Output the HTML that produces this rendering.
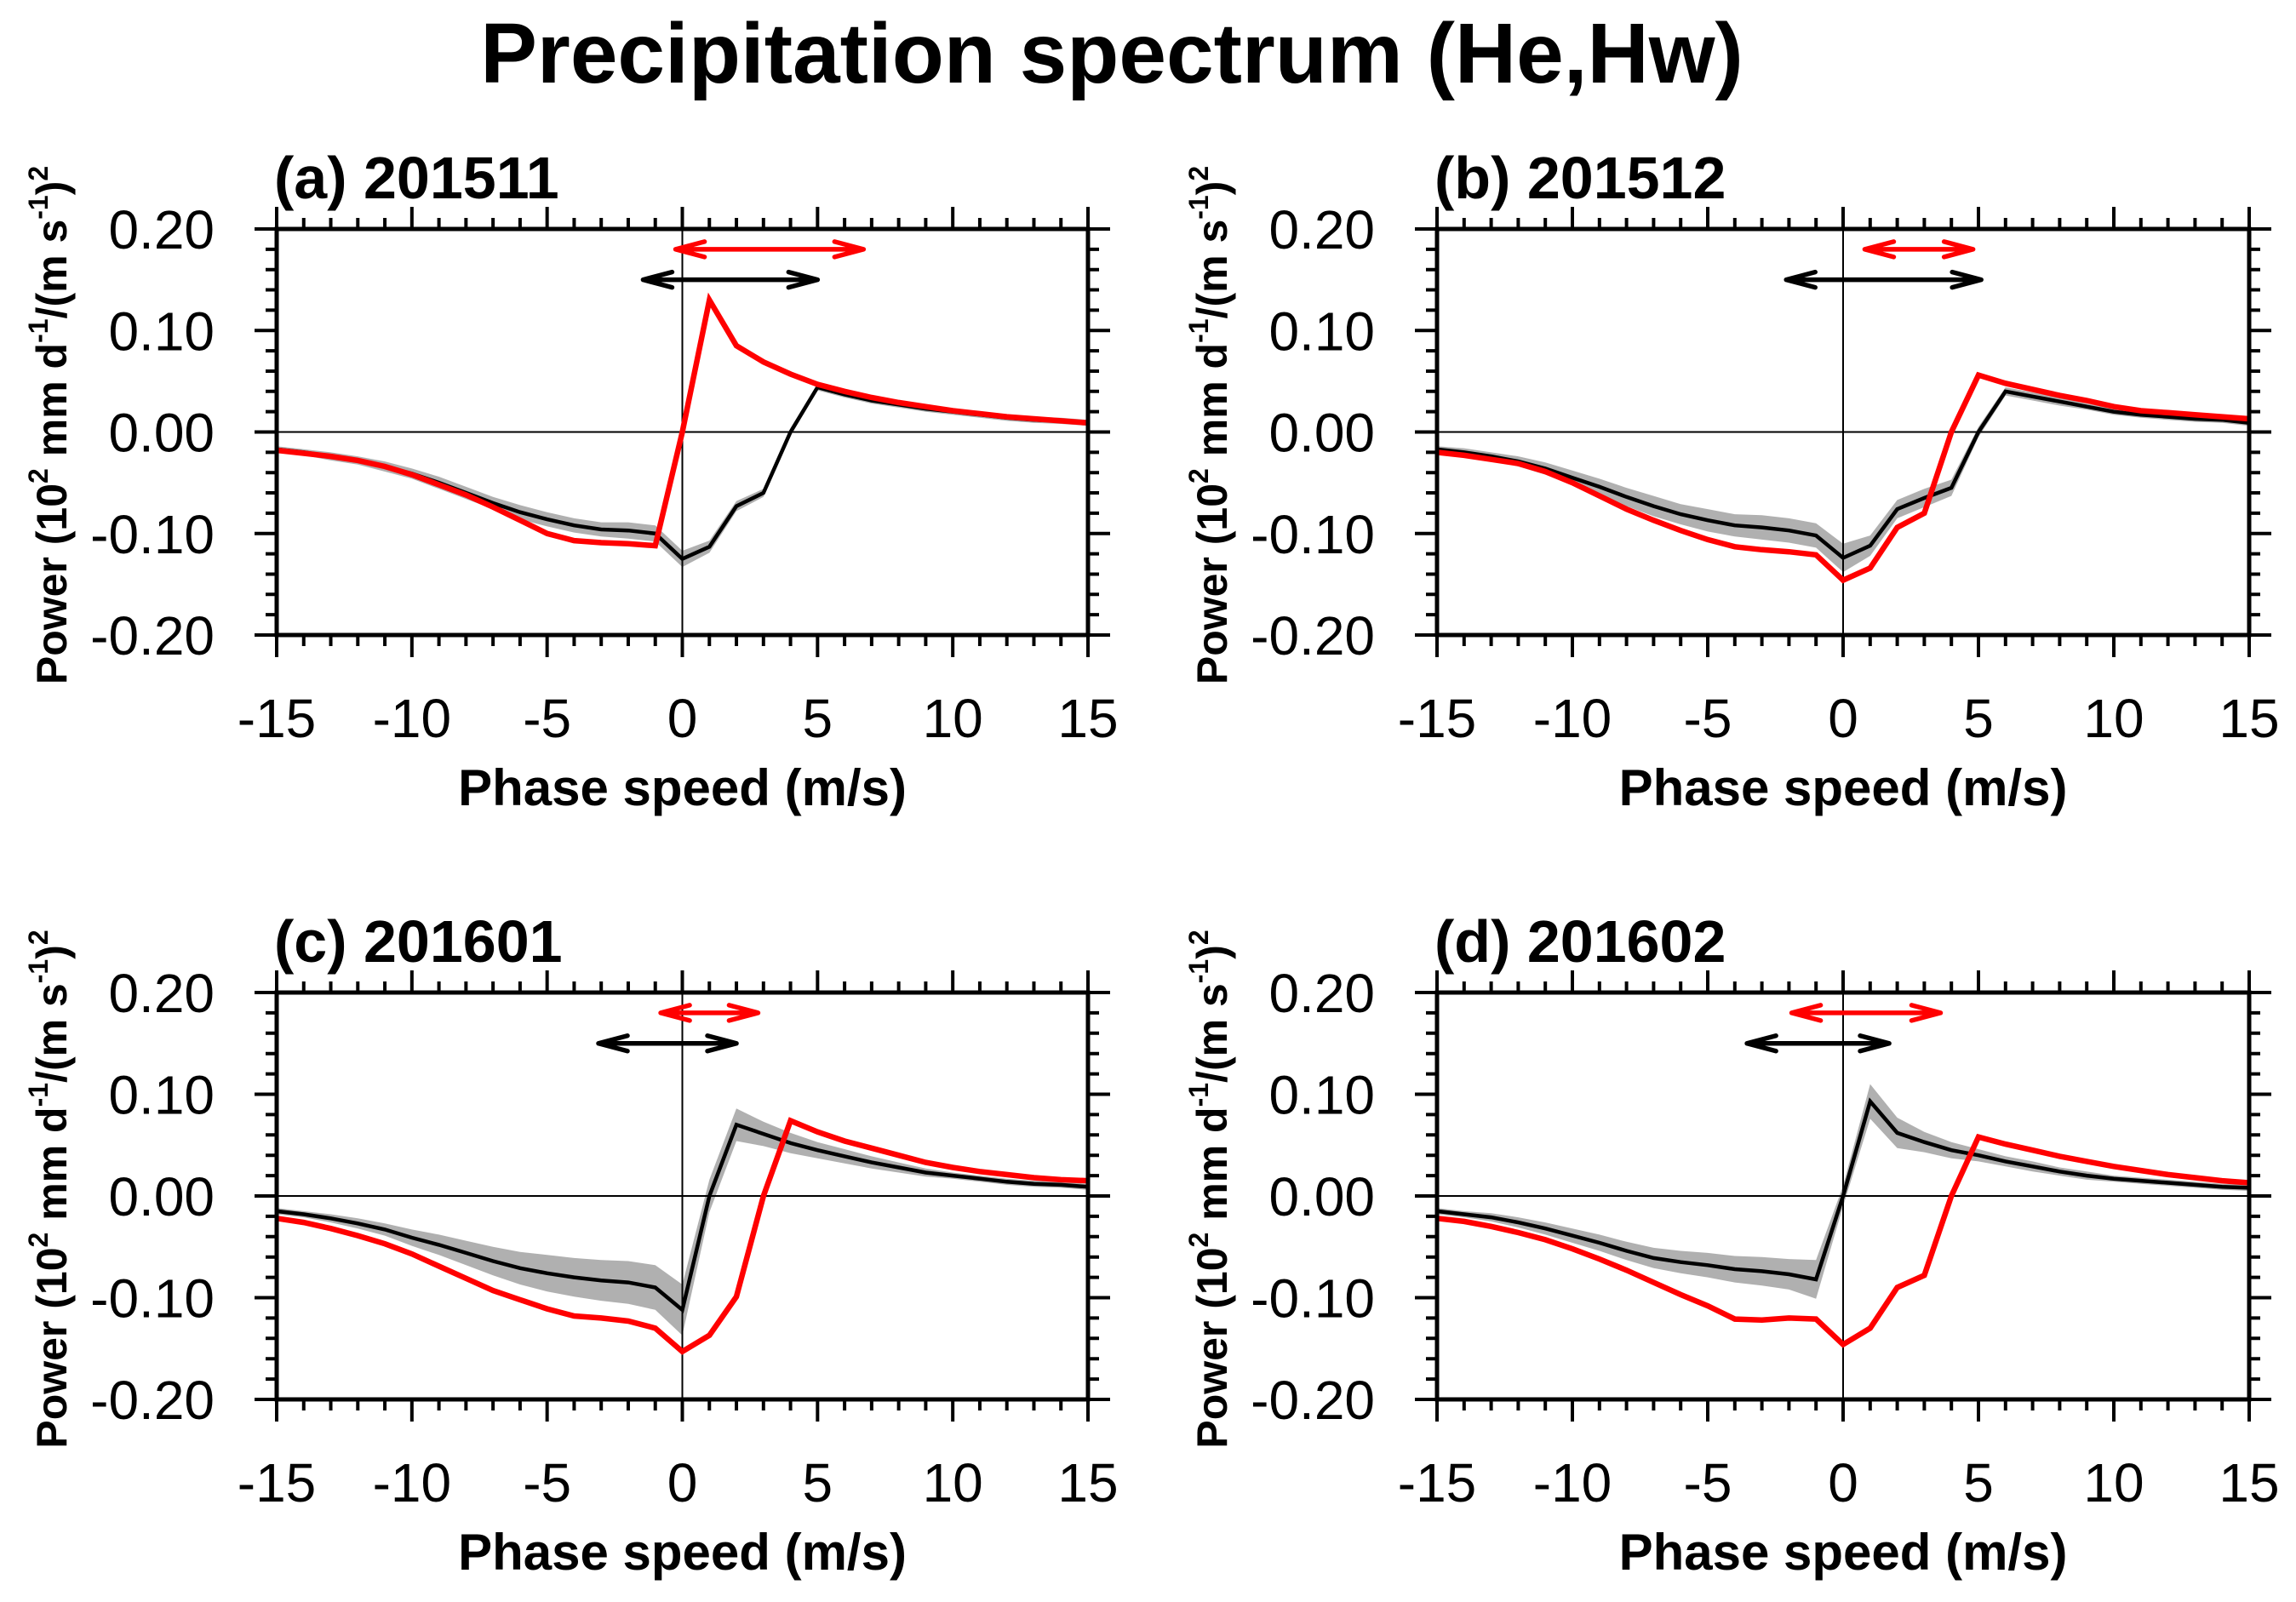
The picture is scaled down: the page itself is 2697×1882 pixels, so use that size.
<!DOCTYPE html>
<html><head><meta charset="utf-8"><title>Precipitation spectrum (He,Hw)</title>
<style>html,body{margin:0;padding:0;background:#fff}svg{display:block}text{font-family:"Liberation Sans",Arial,sans-serif}</style>
</head><body>
<svg id="fig" xmlns="http://www.w3.org/2000/svg" width="2697" height="1882" viewBox="0 0 2697 1882">
<rect width="2697" height="1882" fill="#fff"/>
<text x="1306" y="97" text-anchor="middle" font-size="100" font-weight="bold">Precipitation spectrum (He,Hw)</text>
</svg>
<script>
const speeds = [-15,-14,-13,-12,-11,-10,-9,-8,-7,-6,-5,-4,-3,-2,-1,0,1,2,3,4,5,6,7,8,9,10,11,12,13,14,15];
const xTicks = [-15,-10,-5,0,5,10,15];
const yTicks = [0.2,0.1,0,-0.1,-0.2];
const yTickLabels = ["0.20","0.10","0.00","-0.10","-0.20"];
const panelTitles = ["(a) 201511","(b) 201512","(c) 201601","(d) 201602"];

const redA = [-0.018,-0.021,-0.024,-0.028,-0.034,-0.042,-0.052,-0.062,-0.074,-0.087,-0.100,-0.107,-0.109,-0.110,-0.112,0.0,0.130,0.085,0.069,0.057,0.047,0.040,0.034,0.029,0.025,0.021,0.018,0.015,0.013,0.011,0.009];
const blackA = [-0.017,-0.020,-0.024,-0.028,-0.034,-0.041,-0.050,-0.060,-0.070,-0.079,-0.086,-0.092,-0.096,-0.097,-0.100,-0.125,-0.113,-0.073,-0.060,0.0,0.044,0.037,0.031,0.027,0.023,0.020,0.017,0.014,0.012,0.011,0.009];
const spreadA = [0.003,0.003,0.004,0.004,0.005,0.005,0.006,0.006,0.006,0.007,0.007,0.007,0.007,0.008,0.008,0.008,0.006,0.005,0.004,0.004,0.003,0.003,0.003,0.003,0.003,0.003,0.003,0.003,0.003,0.003,0.003];
const redB = [-0.020,-0.023,-0.027,-0.031,-0.039,-0.050,-0.063,-0.076,-0.087,-0.097,-0.106,-0.113,-0.116,-0.118,-0.121,-0.146,-0.134,-0.094,-0.080,0.0,0.056,0.048,0.042,0.036,0.031,0.025,0.021,0.019,0.017,0.015,0.013];
const blackB = [-0.017,-0.020,-0.024,-0.029,-0.036,-0.045,-0.054,-0.064,-0.073,-0.081,-0.087,-0.092,-0.094,-0.097,-0.102,-0.124,-0.112,-0.076,-0.065,-0.055,0.0,0.040,0.035,0.030,0.025,0.020,0.017,0.015,0.013,0.012,0.009];
const spreadB = [0.003,0.004,0.004,0.005,0.006,0.007,0.008,0.009,0.010,0.010,0.011,0.011,0.012,0.012,0.012,0.014,0.010,0.009,0.009,0.008,0.005,0.004,0.004,0.004,0.003,0.003,0.003,0.003,0.003,0.003,0.003];
const redC = [-0.022,-0.026,-0.032,-0.039,-0.047,-0.057,-0.069,-0.081,-0.093,-0.102,-0.111,-0.118,-0.120,-0.123,-0.130,-0.153,-0.137,-0.099,0.0,0.074,0.063,0.054,0.047,0.040,0.033,0.028,0.024,0.021,0.018,0.016,0.015];
const blackC = [-0.015,-0.018,-0.022,-0.027,-0.033,-0.041,-0.048,-0.056,-0.064,-0.071,-0.076,-0.080,-0.083,-0.085,-0.090,-0.112,0.0,0.070,0.061,0.052,0.045,0.039,0.033,0.028,0.023,0.020,0.017,0.014,0.012,0.011,0.009];
const spreadC = [0.003,0.003,0.004,0.005,0.006,0.008,0.010,0.012,0.014,0.016,0.018,0.019,0.020,0.021,0.022,0.025,0.016,0.016,0.012,0.010,0.008,0.007,0.006,0.005,0.004,0.003,0.003,0.003,0.003,0.003,0.003];
const redD = [-0.022,-0.025,-0.030,-0.036,-0.043,-0.052,-0.062,-0.073,-0.085,-0.097,-0.108,-0.121,-0.122,-0.120,-0.121,-0.146,-0.130,-0.090,-0.078,0.0,0.058,0.051,0.045,0.039,0.034,0.029,0.025,0.021,0.018,0.015,0.013];
const blackD = [-0.015,-0.018,-0.021,-0.026,-0.032,-0.039,-0.046,-0.054,-0.061,-0.065,-0.068,-0.072,-0.074,-0.077,-0.082,0.0,0.093,0.062,0.053,0.045,0.040,0.034,0.029,0.024,0.020,0.017,0.015,0.013,0.011,0.009,0.008];
const spreadD = [0.003,0.003,0.004,0.005,0.006,0.007,0.008,0.009,0.010,0.011,0.012,0.013,0.014,0.015,0.019,0.010,0.017,0.015,0.010,0.008,0.006,0.005,0.005,0.004,0.004,0.003,0.003,0.003,0.003,0.003,0.003];

const redArrowA = [-0.25, 6.7], blackArrowA = [-1.45, 5.0];
const redArrowB = [0.8, 4.8], blackArrowB = [-2.1, 5.1];
const redArrowC = [-0.8, 2.8], blackArrowC = [-3.1, 2.0];
const redArrowD = [-1.9, 3.6], blackArrowD = [-3.55, 1.7];
const redArrowLevel = 0.18, blackArrowLevel = 0.15;

const NS = "http://www.w3.org/2000/svg";
const svg = document.getElementById("fig");
function mk(tag, attrs, parent) {
  const e = document.createElementNS(NS, tag);
  for (const k in attrs) e.setAttribute(k, attrs[k]);
  (parent || svg).appendChild(e);
  return e;
}
const panels = [
  {x0:325,x1:1278,y0:269,y1:746,red:redA,black:blackA,spread:spreadA,ra:redArrowA,ba:blackArrowA,id:"a"},
  {x0:1688,x1:2642,y0:269,y1:746,red:redB,black:blackB,spread:spreadB,ra:redArrowB,ba:blackArrowB,id:"b"},
  {x0:325,x1:1278,y0:1166,y1:1644,red:redC,black:blackC,spread:spreadC,ra:redArrowC,ba:blackArrowC,id:"c"},
  {x0:1688,x1:2642,y0:1166,y1:1644,red:redD,black:blackD,spread:spreadD,ra:redArrowD,ba:blackArrowD,id:"d"}
];
panels.forEach((p, i) => {
  const g = mk("g", {});
  
  
  const xs = v => p.x0 + (v + 15) / 30 * (p.x1 - p.x0);
  const ys = v => p.y1 - (v + 0.2) / 0.4 * (p.y1 - p.y0);
  let d = "";
  speeds.forEach((s, k) => { d += (k ? "L" : "M") + xs(s).toFixed(1) + "," + ys(p.black[k] + p.spread[k]).toFixed(1); });
  for (let k = speeds.length - 1; k >= 0; k--) d += "L" + xs(speeds[k]).toFixed(1) + "," + ys(p.black[k] - p.spread[k]).toFixed(1);
  const band = mk("path", {d: d + "Z", fill: "#b0b0b0", stroke: "none"}, g);
  
  
  const zl = mk("line", {x1:p.x0, x2:p.x1, y1:ys(0), y2:ys(0), stroke:"#000", "stroke-width":2}, g);
  
  
  const vl = mk("line", {x1:xs(0), x2:xs(0), y1:p.y0, y2:p.y1, stroke:"#000", "stroke-width":2}, g);
  
  
  const ptsB = speeds.map((s, k) => xs(s).toFixed(1) + "," + ys(p.black[k]).toFixed(1)).join(" ");
  const bl = mk("polyline", {points: ptsB, fill:"none", stroke:"#000", "stroke-width":4.5, "stroke-linejoin":"miter"}, g);
  
  
  const ptsR = speeds.map((s, k) => xs(s).toFixed(1) + "," + ys(p.red[k]).toFixed(1)).join(" ");
  const rl = mk("polyline", {points: ptsR, fill:"none", stroke:"#ff0000", "stroke-width":6.5, "stroke-linejoin":"miter"}, g);
  
  
  [[p.ra, redArrowLevel, "#ff0000", "red-range-arrow"], [p.ba, blackArrowLevel, "#000", "black-range-arrow"]].forEach(a => {
    const xa = xs(a[0][0]), xb = xs(a[0][1]), y = ys(a[1]);
    const ar = mk("path", {d:`M${xa},${y}L${xb},${y}M${xa+34},${y-9}L${xa},${y}L${xa+34},${y+9}M${xb-34},${y-9}L${xb},${y}L${xb-34},${y+9}`, fill:"none", stroke:a[2], "stroke-width":5.5, "stroke-linecap":"round", "stroke-linejoin":"round"}, g);
    
    
  });
  const fr = mk("rect", {x:p.x0, y:p.y0, width:p.x1-p.x0, height:p.y1-p.y0, fill:"none", stroke:"#000", "stroke-width":5}, g);
  
  
  let td = "";
  for (let v = -15; v <= 15; v++) {
    const L = v % 5 === 0 ? 26 : 13, x = xs(v);
    td += `M${x},${p.y1}L${x},${p.y1+L}M${x},${p.y0}L${x},${p.y0-L}`;
  }
  for (let k = -10; k <= 10; k++) {
    const L = k % 5 === 0 ? 26 : 13, y = ys(k * 0.02);
    td += `M${p.x0},${y}L${p.x0-L},${y}M${p.x1},${y}L${p.x1+L},${y}`;
  }
  const tk = mk("path", {d: td, stroke:"#000", "stroke-width":4, fill:"none"}, g);
  
  
  xTicks.forEach(v => {
    const t = mk("text", {x: xs(v), y: p.y1 + 120, "text-anchor":"middle", "font-size":64}, g);
    t.textContent = String(v);
    
    
  });
  yTicks.forEach((v, k) => {
    const t = mk("text", {x: p.x0 - 73, y: ys(v) + 23, "text-anchor":"end", "font-size":64}, g);
    t.textContent = yTickLabels[k];
    
    
  });
  const pt = mk("text", {x: p.x0 - 3, y: p.y0 - 36, "font-size":70, "font-weight":"bold"}, g);
  pt.textContent = panelTitles[i];
  
  
  const xt = mk("text", {x: (p.x0 + p.x1) / 2, y: p.y1 + 200, "text-anchor":"middle", "font-size":60, "font-weight":"bold"}, g);
  xt.textContent = "Phase speed (m/s)";
  
  
  const cy = (p.y0 + p.y1) / 2 - 8, cx = p.x0 - 247;
  const yt = mk("text", {x: 0, y: 0, "text-anchor":"middle", "font-size":50, "font-weight":"bold", transform:`translate(${cx},${cy}) rotate(-90)`}, g);
  yt.innerHTML = 'Power (10<tspan font-size="32" dy="-22">2</tspan><tspan dy="22"> mm d</tspan><tspan font-size="32" dy="-22">-1</tspan><tspan dy="22">/(m s</tspan><tspan font-size="32" dy="-22">-1</tspan><tspan dy="22">)</tspan><tspan font-size="32" dy="-22">2</tspan>';
  
  
});
</script>
</body></html>
